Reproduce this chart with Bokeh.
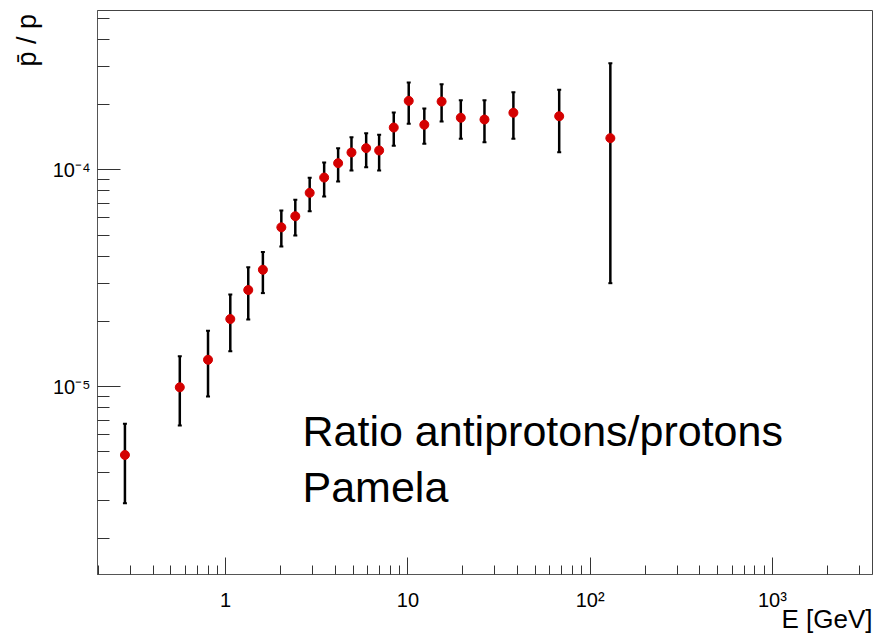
import math
from bokeh.plotting import figure
from bokeh.models import (ColumnDataSource, Range1d, Whisker, TeeHead, Label,
                          FixedTicker, LogTickFormatter)
from bokeh.embed import file_html
from bokeh.resources import INLINE

# ---- data ----
energy = [0.28, 0.56, 0.80, 1.06, 1.33, 1.60, 2.02, 2.41, 2.89, 3.47, 4.14, 4.90,
          5.90, 6.95, 8.36, 10.1, 12.3, 15.3, 19.5, 26.3, 37.9, 67.6, 129.0]
ratio = [4.84e-6, 9.93e-6, 1.33e-5, 2.05e-5, 2.79e-5, 3.46e-5, 5.43e-5, 6.11e-5,
         7.83e-5, 9.21e-5, 1.073e-4, 1.202e-4, 1.259e-4, 1.228e-4, 1.567e-4,
         2.08e-4, 1.614e-4, 2.065e-4, 1.738e-4, 1.706e-4, 1.833e-4, 1.767e-4, 1.40e-4]
ratio_hi = [6.75e-6, 1.38e-5, 1.81e-5, 2.66e-5, 3.55e-5, 4.18e-5, 6.49e-5, 7.27e-5,
            9.18e-5, 1.081e-4, 1.259e-4, 1.414e-4, 1.476e-4, 1.45e-4, 1.838e-4,
            2.53e-4, 1.92e-4, 2.48e-4, 2.094e-4, 2.094e-4, 2.28e-4, 2.34e-4, 3.10e-4]
ratio_lo = [2.90e-6, 6.61e-6, 9.0e-6, 1.456e-5, 2.04e-5, 2.70e-5, 4.43e-5, 4.98e-5,
            6.44e-5, 7.53e-5, 8.83e-5, 9.93e-5, 1.028e-4, 9.93e-5, 1.291e-4,
            1.63e-4, 1.318e-4, 1.67e-4, 1.39e-4, 1.34e-4, 1.39e-4, 1.205e-4, 3.0e-5]

X_MIN, X_MAX = 0.198, 3540.0
Y_MIN, Y_MAX = 1.36e-6, 5.43e-4

x_major_ticks = [1, 10, 100, 1000]
x_tick_labels = ["1", "10", "10\u00b2", "10\u00b3"]
x_minor_ticks = ([m * 0.1 for m in range(2, 10)] + [m * 1.0 for m in range(2, 10)] +
                 [m * 10.0 for m in range(2, 10)] + [m * 100.0 for m in range(2, 10)] +
                 [2000.0, 3000.0])
y_major_ticks = [1e-5, 1e-4]
y_tick_labels = ["10\u207b\u2075", "10\u207b\u2074"]
y_minor_ticks = ([m * 1e-6 for m in range(2, 10)] + [m * 1e-5 for m in range(2, 10)] +
                 [m * 1e-4 for m in range(2, 6)])

x_title = "E [GeV]"
y_title = "p\u0304 / p"
note_line1 = "Ratio antiprotons/protons"
note_line2 = "Pamela"

FONT = "Liberation Sans"
EM = "\u2003"
EN = "\u2002"
THIN = "\u2009"

src = ColumnDataSource(dict(e=energy, r=ratio, hi=ratio_hi, lo=ratio_lo))

p = figure(width=886, height=638, x_axis_type="log", y_axis_type="log",
           x_range=Range1d(X_MIN, X_MAX), y_range=Range1d(Y_MIN, Y_MAX),
           output_backend="svg", toolbar_location=None,
           min_border_left=97, min_border_right=14, min_border_top=10,
           min_border_bottom=64)

p.xgrid.visible = False
p.ygrid.visible = False
p.background_fill_color = "white"
p.border_fill_color = "white"
p.outline_line_color = "#444444"
p.outline_line_width = 1

for ax in (p.xaxis[0], p.yaxis[0]):
    ax.axis_line_color = "#555555"
    ax.major_tick_line_color = "#333333"
    ax.minor_tick_line_color = "#333333"
    ax.major_tick_out = 0
    ax.minor_tick_out = 0
    ax.major_label_text_font = FONT
    ax.major_label_text_font_size = "20px"
    ax.major_label_text_color = "black"
    ax.formatter = LogTickFormatter()
    ax.axis_label_text_font = FONT
    ax.axis_label_text_font_style = "normal"
    ax.axis_label_text_color = "black"
    ax.axis_label_align = "end"

p.xaxis.ticker = FixedTicker(ticks=x_major_ticks, minor_ticks=x_minor_ticks)
p.yaxis.ticker = FixedTicker(ticks=y_major_ticks, minor_ticks=y_minor_ticks)
p.xaxis.major_label_overrides = dict(zip(x_major_ticks, x_tick_labels))
p.yaxis.major_label_overrides = dict(zip(y_major_ticks, y_tick_labels))
p.xaxis.major_tick_in = 17
p.xaxis.minor_tick_in = 9
p.yaxis.major_tick_in = 23
p.yaxis.minor_tick_in = 12
p.xaxis.major_label_standoff = 14
p.yaxis.major_label_standoff = 7

# axis titles at the far ends of the axes (padding shifts the centred text)
p.xaxis.axis_label = x_title + EM * 3 + EN
p.xaxis.axis_label_text_font_size = "26px"
p.xaxis.axis_label_standoff = -10
p.yaxis.axis_label = y_title + EM * 2 + THIN
p.yaxis.axis_label_text_font_size = "27px"
p.yaxis.axis_label_standoff = 8

w = Whisker(source=src, base="e", upper="hi", lower="lo", dimension="height",
            line_color="black", line_width=2.5, level="underlay",
            upper_head=TeeHead(size=4, line_width=2, line_color="black"),
            lower_head=TeeHead(size=4, line_width=2, line_color="black"))
p.add_layout(w)

p.scatter("e", "r", source=src, size=9, marker="circle",
          fill_color="#d40000", line_color="#d40000")

p.add_layout(Label(x=205, y=144, x_units="screen", y_units="screen",
                   text=note_line1, text_font=FONT, text_font_size="43px",
                   text_color="black", text_baseline="alphabetic"))
p.add_layout(Label(x=205, y=88, x_units="screen", y_units="screen",
                   text=note_line2, text_font=FONT, text_font_size="43px",
                   text_color="black", text_baseline="alphabetic"))

open("out.html", "w").write(file_html(p, INLINE))
